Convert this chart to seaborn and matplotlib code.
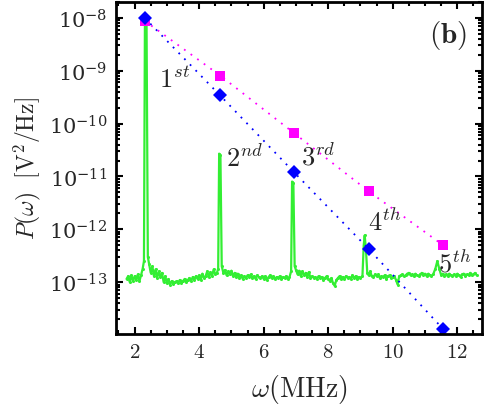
import numpy as np
import pandas as pd
import seaborn as sns
import matplotlib
matplotlib.use("Agg")
import matplotlib.pyplot as plt
from matplotlib.ticker import LogLocator, MultipleLocator, FuncFormatter

# harmonic peak values (blue diamonds / magenta squares)
harm_freq = [2.31, 4.65, 6.94, 9.26, 11.56]
harm_blue = [1.0e-8, 3.4e-10, 1.2e-11, 4.2e-13, 1.3e-14]
harm_mag = [8.8e-9, 8.1e-10, 6.6e-11, 5.2e-12, 5.0e-13]
harm_labels = ["$1^{st}$", "$2^{nd}$", "$3^{rd}$", "$4^{th}$", "$5^{th}$"]

spec_freq = [1.75, 1.8, 1.85, 1.9, 1.95, 2.0, 2.05, 2.1, 2.15, 2.2, 2.25,
             2.29, 2.32, 2.37, 2.41,
             2.45, 2.5, 2.55, 2.6, 2.65, 2.7, 2.75, 2.8, 2.85, 2.9, 2.95, 3.0, 3.05,
             3.1, 3.15, 3.2, 3.25, 3.3, 3.35, 3.4, 3.45, 3.5, 3.55, 3.6, 3.65, 3.7,
             3.75, 3.8, 3.85, 3.9, 3.95, 4.0, 4.05, 4.1, 4.15, 4.2, 4.25, 4.3, 4.35,
             4.4, 4.45, 4.5, 4.55, 4.59,
             4.62, 4.66, 4.7,
             4.75, 4.8, 4.85, 4.9, 4.95, 5.0, 5.05, 5.1, 5.15, 5.2, 5.25, 5.3, 5.35,
             5.4, 5.45, 5.5, 5.55, 5.6, 5.65, 5.7, 5.75, 5.8, 5.85, 5.9, 5.95, 6.0,
             6.05, 6.1, 6.15, 6.2, 6.25, 6.3, 6.35, 6.4, 6.45, 6.5, 6.55, 6.6, 6.65,
             6.7, 6.75, 6.8, 6.85,
             6.88, 6.92, 6.96,
             7.0, 7.05, 7.1, 7.15, 7.2, 7.25, 7.3, 7.35, 7.4, 7.45, 7.5, 7.55, 7.6,
             7.65, 7.7, 7.75, 7.8, 7.85, 7.9, 7.95, 8.0, 8.05, 8.1, 8.15, 8.2, 8.25,
             8.3, 8.35, 8.4, 8.45, 8.5, 8.55, 8.6, 8.65, 8.7, 8.75, 8.8, 8.85, 8.9,
             8.95, 9.0, 9.06,
             9.10, 9.13, 9.17, 9.21,
             9.25, 9.3, 9.35, 9.4, 9.45, 9.5, 9.55, 9.6, 9.65, 9.7, 9.75, 9.8, 9.85,
             9.9, 9.95, 10.0, 10.05, 10.1, 10.15, 10.2, 10.25, 10.3, 10.35, 10.4,
             10.45, 10.5, 10.55, 10.6, 10.65, 10.7, 10.75, 10.8, 10.85, 10.9, 10.95,
             11.0, 11.05, 11.1, 11.15, 11.2, 11.25,
             11.32, 11.38, 11.44, 11.5,
             11.55, 11.6, 11.65, 11.7, 11.75, 11.8, 11.85, 11.9, 11.95, 12.0, 12.05,
             12.1, 12.15, 12.2, 12.25, 12.3, 12.35, 12.4, 12.45, 12.5, 12.55, 12.6]
spec_power = [1.15e-13, 1.3e-13, 1.0e-13, 1.35e-13, 1.05e-13, 1.3e-13, 1.1e-13,
              1.4e-13, 1.05e-13, 1.35e-13, 1.8e-13,
              2.5e-13, 8.5e-9, 9.0e-9, 3.0e-13,
              2.2e-13, 1.5e-13, 2.0e-13, 1.3e-13, 1.75e-13, 1.2e-13, 1.6e-13, 1.25e-13,
              1.5e-13, 1.0e-13, 1.3e-13, 0.95e-13, 1.15e-13, 0.9e-13, 1.05e-13,
              0.92e-13, 1.0e-13, 1.05e-13, 0.95e-13, 1.1e-13, 0.98e-13, 1.05e-13,
              1.15e-13, 1.0e-13, 1.1e-13, 1.2e-13, 1.05e-13, 1.25e-13, 1.1e-13,
              1.3e-13, 1.15e-13, 1.35e-13, 1.1e-13, 1.45e-13, 1.2e-13, 1.3e-13,
              1.6e-13, 1.25e-13, 1.55e-13, 1.3e-13, 1.75e-13, 1.4e-13, 1.5e-13,
              1.8e-13,
              2.7e-11, 2.5e-11, 2.0e-13,
              1.5e-13, 1.7e-13, 1.35e-13, 1.6e-13, 1.4e-13, 1.65e-13, 1.3e-13,
              1.5e-13, 1.25e-13, 1.45e-13, 1.2e-13, 1.35e-13, 1.15e-13, 1.3e-13,
              1.2e-13, 1.35e-13, 1.25e-13, 1.4e-13, 1.2e-13, 1.3e-13, 1.15e-13,
              1.35e-13, 1.25e-13, 1.2e-13, 1.3e-13, 1.15e-13, 1.3e-13, 1.1e-13,
              1.25e-13, 1.35e-13, 1.2e-13, 1.3e-13, 1.15e-13, 1.25e-13, 1.2e-13,
              1.3e-13, 1.15e-13, 1.25e-13, 1.2e-13, 1.3e-13, 1.15e-13, 1.25e-13,
              1.6e-13,
              8.0e-12, 7.5e-12, 2.0e-13,
              1.7e-13, 1.4e-13, 1.65e-13, 1.3e-13, 1.6e-13, 1.35e-13, 1.5e-13,
              1.25e-13, 1.55e-13, 1.2e-13, 1.3e-13, 1.2e-13, 1.25e-13, 1.15e-13,
              1.3e-13, 1.2e-13, 1.25e-13, 1.1e-13, 1.2e-13, 1.3e-13, 1.15e-13,
              1.05e-13, 1.2e-13, 0.95e-13, 0.85e-13, 1.1e-13, 1.2e-13, 1.3e-13,
              1.15e-13, 1.25e-13, 1.15e-13, 1.3e-13, 1.2e-13, 1.25e-13, 1.15e-13,
              1.35e-13, 1.2e-13, 1.3e-13, 1.15e-13, 1.25e-13, 1.2e-13, 1.3e-13,
              5.0e-13, 7.7e-13, 4.0e-13, 1.5e-13,
              1.35e-13, 1.6e-13, 1.3e-13, 1.25e-13, 1.4e-13, 1.3e-13, 1.4e-13,
              1.2e-13, 1.3e-13, 1.25e-13, 1.35e-13, 1.15e-13, 1.3e-13, 1.35e-13,
              1.2e-13, 1.25e-13, 1.3e-13, 1.1e-13, 0.9e-13, 1.3e-13, 1.35e-13,
              1.4e-13, 1.3e-13, 1.35e-13, 1.45e-13, 1.5e-13, 1.35e-13, 1.4e-13,
              1.3e-13, 1.45e-13, 1.35e-13, 1.3e-13, 1.4e-13, 1.5e-13, 1.35e-13,
              1.45e-13, 1.3e-13, 1.45e-13, 1.35e-13, 1.3e-13, 1.4e-13,
              1.8e-13, 2.5e-13, 1.8e-13, 1.35e-13,
              1.45e-13, 1.3e-13, 1.4e-13, 1.3e-13, 1.45e-13, 1.35e-13, 1.3e-13,
              1.4e-13, 1.3e-13, 1.45e-13, 1.35e-13, 1.25e-13, 1.4e-13, 1.45e-13,
              1.3e-13, 1.4e-13, 1.35e-13, 1.5e-13, 1.35e-13, 1.4e-13, 1.5e-13,
              1.35e-13]

spec = pd.DataFrame({"freq": spec_freq, "power": spec_power})
harm = pd.DataFrame({"freq": harm_freq, "blue": harm_blue, "mag": harm_mag})

sns.set_style("ticks")
plt.rcParams["mathtext.fontset"] = "cm"
plt.rcParams["font.family"] = ["DejaVu Serif"]

fig = plt.figure(figsize=(4.91, 4.14), dpi=100)
ax = fig.add_axes([0.236, 0.191, 0.746, 0.802])

sns.lineplot(data=spec, x="freq", y="power", ax=ax, color="#33ee33",
             linewidth=1.6, marker="o", markersize=2.2, markeredgewidth=0)
sns.lineplot(data=harm, x="freq", y="mag", ax=ax, color="#ff00ff",
             linewidth=1.3, linestyle=(0, (1, 3.5)), marker="s", markersize=6.5,
             markeredgewidth=0)
sns.lineplot(data=harm, x="freq", y="blue", ax=ax, color="#0000ff",
             linewidth=1.3, linestyle=(0, (1, 3.5)), marker="D", markersize=7.5,
             markeredgewidth=0)

ax.set_yscale("log")
ax.set_xlim(1.42, 12.77)
ax.set_ylim(1.05e-14, 2.0e-8)

ax.yaxis.set_major_locator(LogLocator(base=10, numticks=100))
ax.yaxis.set_minor_locator(LogLocator(base=10, subs=np.arange(2, 10), numticks=100))
ax.xaxis.set_major_locator(MultipleLocator(2))
ax.xaxis.set_minor_locator(MultipleLocator(0.5))
ax.xaxis.set_major_formatter(FuncFormatter(lambda v, p: f"${v:g}$"))

ax.tick_params(which="both", direction="in", top=True, right=True,
               width=1.5, labelsize=15, color="black")
ax.tick_params(which="major", length=5, pad=6)
ax.tick_params(which="minor", length=3)
for s in ax.spines.values():
    s.set_linewidth(2)
    s.set_color("black")

ax.set_xlabel(r"$\omega(\mathrm{MHz})$", fontsize=20, labelpad=8)
ax.set_ylabel(r"$P(\omega)\ \ [\mathrm{V}^2/\mathrm{Hz}]$", fontsize=17, labelpad=4)

label_pos = [(175, 80), (245, 158), (318, 157), (385, 222), (455, 263)]
for (px, py), lab in zip(label_pos, harm_labels):
    fig.text(px / 491, 1 - py / 414, lab, fontsize=19, ha="center", va="center")
fig.text(448 / 491, 1 - 36 / 414, r"$\mathbf{(b)}$", fontsize=21,
         ha="center", va="center")

fig.savefig("out.png", dpi=100)
